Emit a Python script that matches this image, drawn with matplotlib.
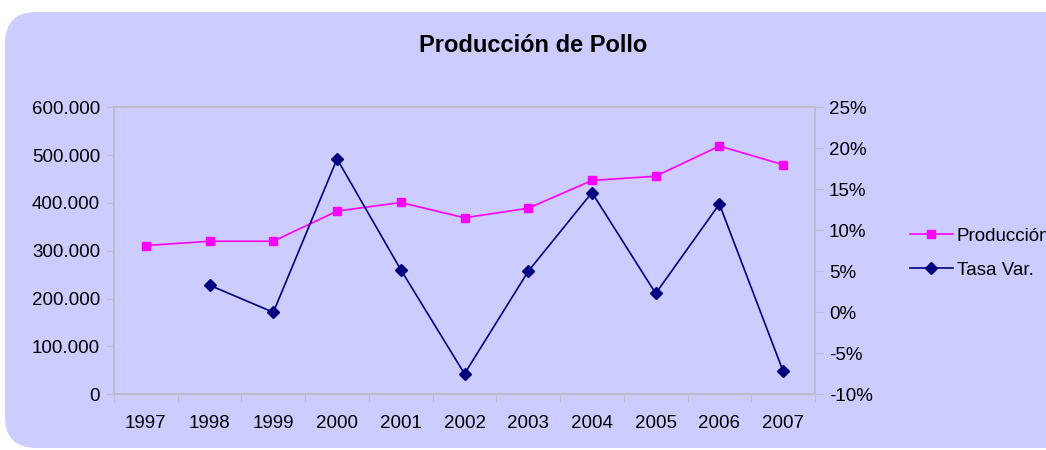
import matplotlib
matplotlib.use("Agg")
import matplotlib.pyplot as plt
from matplotlib.patches import FancyBboxPatch
from matplotlib.ticker import FuncFormatter, FixedLocator

years = ["1997", "1998", "1999", "2000", "2001", "2002", "2003", "2004", "2005", "2006", "2007"]
produccion = [311000, 320000, 320000, 383000, 401000, 369000, 389000, 447000, 456000, 519000, 480000]
tasa_years = ["1998", "1999", "2000", "2001", "2002", "2003", "2004", "2005", "2006", "2007"]
tasa_var = [3.3, 0.0, 18.7, 5.2, -7.5, 5.0, 14.6, 2.3, 13.2, -7.2]

plt.rcParams['font.family'] = ['Liberation Sans', 'DejaVu Sans']

bg = '#CCCCFF'
grid_c = '#BDBDC8'
fs = 13.5
fig = plt.figure(figsize=(10.46, 4.5), dpi=100)
fig.patch.set_facecolor('white')
box = FancyBboxPatch((5/1046, 2/450), 1.2, 436/450,
                     boxstyle="round,pad=0,rounding_size=0.03",
                     transform=fig.transFigure, facecolor=bg, edgecolor='none',
                     mutation_aspect=1046/450, zorder=-10)
fig.patches.append(box)

ax = fig.add_axes([114/1046, 1 - 394.3/450, (815 - 114)/1046, (394.3 - 107.3)/450])
ax.set_zorder(1)
ax.set_facecolor(bg)
xpos = list(range(len(years)))
ax.plot(xpos, produccion, color='#FF00FF', marker='s', markersize=6, linewidth=1.2,
        label='Producción', zorder=3)
ax.set_xlim(-0.5, len(years) - 0.5)
ax.set_ylim(0, 600000)
ax.set_yticks(range(0, 600001, 100000))
ax.yaxis.set_major_formatter(FuncFormatter(lambda v, p: f"{int(v):,}".replace(",", ".")))
ax.set_xticks(xpos)
ax.set_xticklabels(years)
ax.xaxis.set_minor_locator(FixedLocator([i - 0.5 for i in range(len(years) + 1)]))
ax.tick_params(axis='x', which='major', length=0, pad=15, labelsize=fs)
ax.tick_params(axis='x', which='minor', length=6, color=grid_c, direction='out')
ax.tick_params(axis='y', length=6, color=grid_c, labelsize=fs, pad=4)
for s in ax.spines.values():
    s.set_color(grid_c)
    s.set_linewidth(1.2)

ax2 = ax.twinx()
ax2.set_zorder(2)
ax2.patch.set_visible(False)
tx = [years.index(y) for y in tasa_years]
ax2.plot(tx, tasa_var, color='#000080', marker='D', markersize=6, linewidth=1.2,
         label='Tasa Var.', zorder=3)
ax2.set_ylim(-10, 25)
ax2.set_yticks(range(-10, 26, 5))
ax2.yaxis.set_major_formatter(FuncFormatter(lambda v, p: f"{int(v)}%"))
ax2.tick_params(axis='y', length=6, color=grid_c, labelsize=fs, pad=4)
for s in ax2.spines.values():
    s.set_color(grid_c)
    s.set_linewidth(1.2)

fig.text(533/1046, 1 - 45/450, "Producción de Pollo", ha='center', va='center',
         fontsize=17, fontweight='bold')

h1, l1 = ax.get_legend_handles_labels()
h2, l2 = ax2.get_legend_handles_labels()
leg = fig.legend(h1 + h2, l1 + l2, loc='center left', bbox_to_anchor=(893/1046, 1 - 253/450),
                 frameon=False, fontsize=fs, handlelength=2.3, handletextpad=0.2,
                 labelspacing=0.9)

fig.savefig("out.png", dpi=100, facecolor='white')
